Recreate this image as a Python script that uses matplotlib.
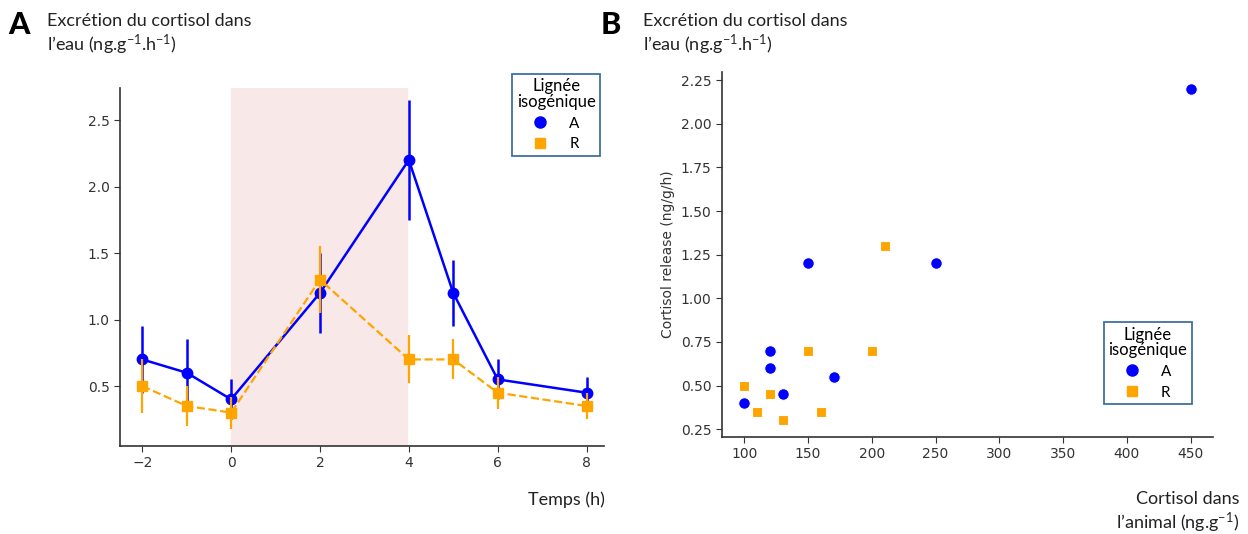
import matplotlib.pyplot as plt
from matplotlib.lines import Line2D
import numpy as np

plt.rcParams['mathtext.fontset'] = 'custom'
plt.rcParams['mathtext.rm'] = 'Lato'
plt.rcParams['mathtext.it'] = 'Lato'
plt.rcParams['mathtext.bf'] = 'Lato:bold'

#### --------------------------------------------------- data

temps = [-2, -1, 0, 2, 4, 5, 6, 8]
cortisol_A = [0.7, 0.6, 0.4, 1.2, 2.2, 1.2, 0.55, 0.45]
err_A = [0.25, 0.25, 0.15, 0.3, 0.45, 0.25, 0.15, 0.12]
cortisol_R = [0.5, 0.35, 0.3, 1.3, 0.7, 0.7, 0.45, 0.35]
err_R = [0.2, 0.15, 0.12, 0.25, 0.18, 0.15, 0.12, 0.1]

animal_A = [100, 120, 120, 130, 170, 150, 250, 450]
release_A = [0.4, 0.7, 0.6, 0.45, 0.55, 1.2, 1.2, 2.2]
animal_R = [100, 110, 120, 130, 150, 160, 200, 210]
release_R = [0.5, 0.35, 0.45, 0.3, 0.7, 0.35, 0.7, 1.3]

blue = '#0000ff'
orange = '#ffa500'
txt_font = ['Lato', 'DejaVu Sans']
spine_col = '#333333'

fig = plt.figure(figsize=(12.48, 5.34), dpi=100)


def style_axes(ax):
    for s in ['top', 'right']:
        ax.spines[s].set_visible(False)
    for s in ['left', 'bottom']:
        ax.spines[s].set_color(spine_col)
        ax.spines[s].set_linewidth(1.2)
    ax.tick_params(colors=spine_col, labelsize=10, length=4)


def add_legend(ax, anchor):
    handles = [Line2D([], [], marker='o', ls='none', color=blue, markersize=8),
               Line2D([], [], marker='s', ls='none', color=orange, markersize=7)]
    leg = ax.legend(handles, ['A', 'R'], title='Lignée\nisogénique',
                    loc='upper right', bbox_to_anchor=anchor,
                    bbox_transform=fig.transFigure, fancybox=False,
                    prop={'family': txt_font, 'size': 11},
                    title_fontproperties={'family': txt_font, 'size': 12},
                    handletextpad=1.4, borderpad=0.3, labelspacing=0.45,
                    handlelength=1.0, borderaxespad=0)
    leg.get_title().set_multialignment('center')
    leg.get_title().set_linespacing(0.95)
    leg.get_frame().set_edgecolor('#41719c')
    leg.get_frame().set_linewidth(1.3)
    leg.get_frame().set_alpha(1)
    leg.set_zorder(10)


#### --------------------------------------------------- panel A

ax1 = fig.add_axes([0.0962, 0.165, 0.388, 0.670])
ax1.axvspan(0, 3.95, color='#f9e8e8', zorder=0)
ax1.errorbar(temps, cortisol_R, yerr=err_R, color=orange, ls='--', lw=1.6,
             marker='s', markersize=6.5, elinewidth=1.6, zorder=3)
ax1.errorbar(temps, cortisol_A, yerr=err_A, color=blue, ls='-', lw=1.8,
             marker='o', markersize=7.5, elinewidth=1.8, zorder=2)
ax1.set_xlim(-2.5, 8.4)
ax1.set_ylim(0.05, 2.74)
ax1.set_xticks([-2, 0, 2, 4, 6, 8])
ax1.set_yticks([0.5, 1.0, 1.5, 2.0, 2.5])
style_axes(ax1)
add_legend(ax1, (0.481, 0.862))

#### --------------------------------------------------- panel B

ax2 = fig.add_axes([0.5785, 0.1816, 0.3934, 0.683])
ax2.scatter(animal_A, release_A, color=blue, marker='o', s=70,
            edgecolor='white', linewidth=0.8, zorder=3)
ax2.scatter(animal_R, release_R, color=orange, marker='s', s=60,
            edgecolor='white', linewidth=0.8, zorder=3)
ax2.set_xlim(82.5, 467.5)
ax2.set_ylim(0.205, 2.295)
ax2.set_xticks(np.arange(100, 451, 50))
ax2.set_yticks([0.25, 0.5, 0.75, 1.0, 1.25, 1.5, 1.75, 2.0, 2.25])
ax2.set_yticklabels(['0.25', '0.50', '0.75', '1.00', '1.25', '1.50', '1.75', '2.00', '2.25'])
ax2.set_ylabel('Cortisol release (ng/g/h)', fontsize=10, color=spine_col)
style_axes(ax2)
add_legend(ax2, (0.955, 0.397))

#### --------------------------------------------------- annotations

fig.text(0.007, 0.98, 'A', fontsize=22, fontweight='black', family=txt_font, va='top')
fig.text(0.481, 0.98, 'B', fontsize=22, fontweight='black', family=txt_font, va='top')
ylab = 'Excrétion du cortisol dans\nl\u2019eau (ng.g$^{-1}$.h$^{-1}$)'
fig.text(0.038, 0.975, ylab, fontsize=13, family=txt_font, va='top', color='#222222',
         linespacing=1.2)
fig.text(0.515, 0.975, ylab, fontsize=13, family=txt_font, va='top', color='#222222',
         linespacing=1.2)
fig.text(0.485, 0.055, 'Temps (h)', fontsize=13, family=txt_font, ha='right', color='#222222')
fig.text(0.993, 0.01, 'Cortisol dans\nl\u2019animal (ng.g$^{-1}$)', fontsize=13,
         family=txt_font, ha='right', color='#222222', linespacing=1.2)

plt.savefig('out.png', dpi=100)
